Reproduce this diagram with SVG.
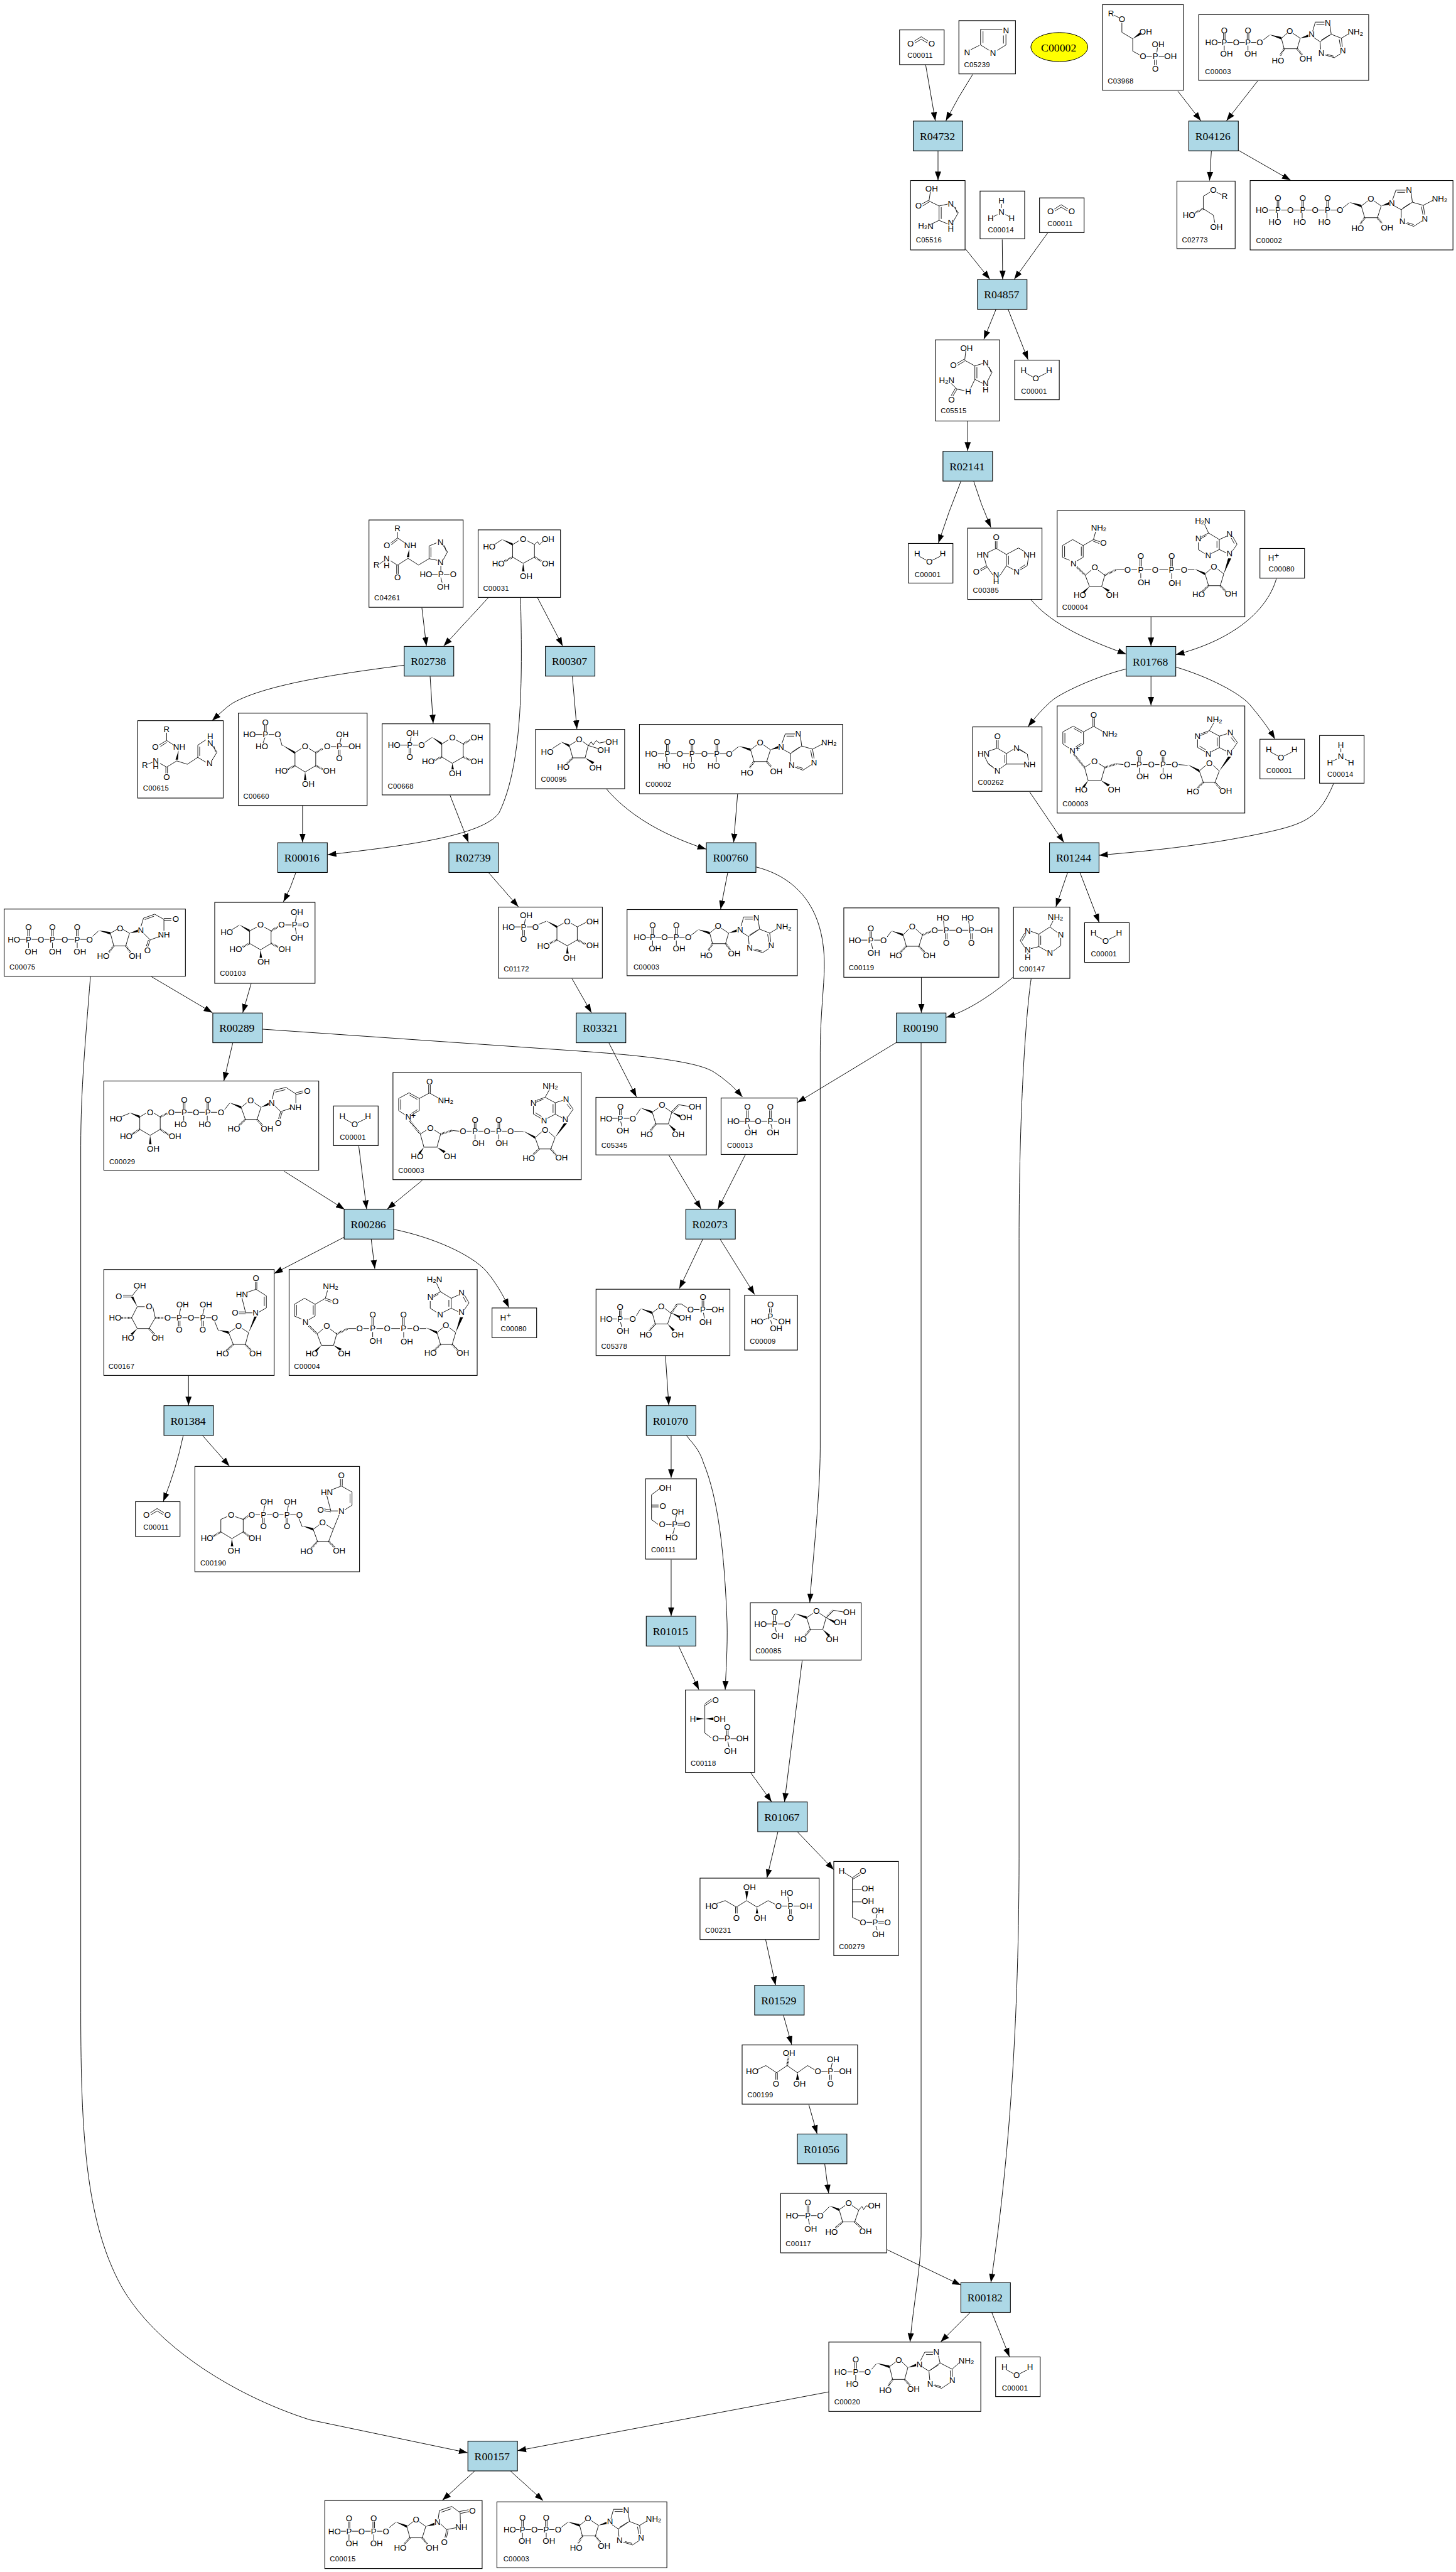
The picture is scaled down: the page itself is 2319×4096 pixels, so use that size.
<svg xmlns="http://www.w3.org/2000/svg" width="2319" height="4096" viewBox="0 0 2319 4096">
<style>
.n rect{fill:#fff;stroke:#000;stroke-width:1.1}
.n text{font:13.5px "Liberation Sans",Arial,sans-serif;text-anchor:middle;dominant-baseline:central;fill:#000}
.n text.l{font-size:11.5px;letter-spacing:.3px;text-anchor:start;dominant-baseline:auto}
.s{font-size:9.5px}
.r rect{fill:#ADD8E6;stroke:#000;stroke-width:1.1}
.r text{font:18px "Liberation Serif","Times New Roman",serif;text-anchor:middle;fill:#000}
.b{fill:none;stroke:#000;stroke-width:.9}
.w{fill:#000}
.h{fill:none;stroke:#000;stroke-width:3;stroke-dasharray:1 1.3}
.e path{fill:none;stroke:#000;stroke-width:.95;marker-end:url(#a)}
</style>
<defs>
<marker id="a" markerUnits="userSpaceOnUse" markerWidth="15" markerHeight="11" refX="14" refY="5.5" orient="auto"><path d="M0 .5L14 5.5L0 10.5Z" fill="#000"/></marker>
<path id="s-water" class="b" d="M18 21L29 27M39 27L51 21"/>
<path id="s-co2" class="b" d="M24 18L35 11L46 18M25 21L35 15L45 21"/>
<path id="s-nh3" class="b" d="M34.5 21V27M28 38L22 41M41 38L47 41"/>
<g id="s-atp"><path class="b" d="M30 47.6H40M50 47.6H60M70 47.6H80M90 47.6H100M110 47.6H120M130 47.6H140M43.7 33V43M46.3 33V43M83.7 33V43M86.3 33V43M123.7 33V43M126.3 33V43M44 52V61M84 52V61M124 52V61M150 44L160 36M179.4 41L190 33M200 33L211.6 41L205.5 60H185L179.4 41M230 31L235.4 15.5H251M237.5 19H250M260 20L262 35L244 47L233 41M258 37L246 45M244 47V60M251 69L264 74L278 65M254 68L264 71M282 55L279.5 40M279 55L276.5 42M279.5 40L262 35M279.5 40L295 32"/><path class="w" d="M160 35L179.4 39V43ZM211.6 41L224 35V39Z"/><path class="h" d="M185 60L178 70M205.5 60L213 69"/></g>
<g id="s-adp"><path class="b" d="M31 44.8H36.5M46 44.8H55M66 44.8H74.5M84.5 44.8H93M104 41L114 33.3M133.5 38L143 30M152 30L164 38L159 55H138L133.5 38M184 27L188.3 12H203M190 15.5H203M212 18L214 31.6L196 43.6L186 37M211 33L198 41M196 43.6L197 56M204 65L219 69.5L229 63M207 64L218 67M232 52L230.4 38M229 52L227 40M230.4 38L214 31.6M230.4 38L242 31M40 30V40M42.6 30V40M78.3 30V40M81 30V40M41.3 50V58M79.6 50V58"/><path class="w" d="M114 32L133.5 36V40ZM164 38L177 32V36Z"/><path class="h" d="M138 55L131 67M159 55L167 65"/></g>
<g id="s-nad"><path class="b" d="M19 68L9.2 61.4V41.9L26 32.7L42.5 41.9V61.4L31 68M12.5 60V43.5M27 36.5L39.5 43.5M39.5 60L30 66M42.5 41.9L59 33M57.7 33V20M60.3 33V20M59 33L73 41M44.2 99.3L54 93M67 93L77 99.3L71 120.5H50L44.2 99.3M95.8 93.6L107 94.7M119 94.7H127M138 94.7H146M158 94.7H165M176 94.7H184M131.3 81.5V90M134 81.5V90M169.7 81.5V90M172.3 81.5V90M132.6 100V108M171 100V108M196 94.7L210.7 95.9M229.5 105L240 96M252 96L261.8 105L254.9 123.4H236L229.5 105M245.7 40L253 27M245.7 40L232 45M243 43L231 48M226.7 54V67L239 74M230 65L240 71M249 74L262 67.3V48.8L245.7 40M258.5 65V51M262 48.8L274 45M283 48L291 59L283 71M281 51L287 59M273 73L262 67.3"/><path class="w" d="M50 120.5L41 130L44 132ZM71 120.5L82 130L85 127ZM210.7 94.5L229.5 103V107ZM261.8 105L276 82H281Z"/><path class="h" d="M27 78L44.2 99.3M77 99.3L95.8 93.6M236 123.4L226 133M254.9 123.4L263 133"/></g>
<g id="s-nadh"><path class="b" d="M20 80L8.6 75.2V56.2L25 46.5L42 56.2V75.2L32 81M12 74.5V57M39 73V58M42 56.2L58.6 46.5L62 34M58.6 46.5L69 50M58 49L68 53M45.3 104L55 96M66 96L76.9 104L71.8 122.4H52.2L45.3 104M95.3 95.3H108M120 95.3H129M141 95.3H152M165 95.3H179M191 95.3H199M133.7 78V90M136.3 78V90M183.5 78V90M186 78V90M135 101V109M185 101V110M211 95.3H221.6M238.8 102L248 94M259 94L269 102L263.4 121H244.5L238.8 102M244.5 36L238 22M244.5 36L233 42M241 40L232 45M227.9 51V62.6L238 69M249 69L261.8 62.6V46.5L244.5 36M258 60V49M261.8 46.5L274 41M283 41L290.5 54L283 65M273 68L261.8 62.6M281 44L286 53"/><path class="w" d="M52.2 122.4L41 131L44 133ZM71.8 122.4L82 131L85 128ZM221.6 94L238.8 100V104ZM269 102L276 77H281Z"/><path class="h" d="M32 91L45.3 104M76.9 104L95.3 95.3M244.5 121L234 131M263.4 121L272 130"/></g>
<g id="s-f6p"><path class="b" d="M26 34H35M45 34H54M38 20V29M40.8 20V29M40 39L42 47M65 29L72 18.4M91 24L101 17M112 17L122.5 24L117 43H96.8L91 24M134 12L152 15"/><path class="w" d="M72 17L91 22V26ZM122.5 24L136 29V33ZM117 43L126 55L129 52Z"/><path class="h" d="M122.5 24L134 12M96.8 43L88 54"/></g>
</defs>
<rect width="2319" height="4096" fill="#fff"/>
<g transform="scale(.98639)">
<g id="connectors" class="e">
<path d="M1494.7 105L1510.3 195"/>
<path d="M1570.7 120Q1548 155 1527.3 195"/>
<path d="M1514.6 243.3V291"/>
<path d="M1902 147.3L1939 195"/>
<path d="M2030.7 130.8L1980.4 195"/>
<path d="M1956 243.8L1953 291.5"/>
<path d="M1999.2 242.4L2084 291"/>
<path d="M1558.9 401.8L1598.3 451"/>
<path d="M1618.3 386.6L1619 451"/>
<path d="M1691.7 376L1637.7 451"/>
<path d="M1608 500L1588.6 547.8"/>
<path d="M1628 500L1660 580.8"/>
<path d="M1562.5 680V728"/>
<path d="M1551.6 777Q1532 825 1515.2 876.8"/>
<path d="M1572.2 777Q1584 815 1600 851.5"/>
<path d="M1664.4 968C1700 1010 1760 1035 1818.5 1056"/>
<path d="M1858.5 996V1043.3"/>
<path d="M2061 934.2C2045 990 1985 1035 1898.5 1057"/>
<path d="M1818.5 1080C1770 1092 1715 1118 1700 1130C1685 1142 1672 1158 1660 1173"/>
<path d="M1858.5 1092V1139"/>
<path d="M1898.5 1077C1950 1092 2005 1120 2020 1140C2035 1158 2048 1175 2058.6 1193"/>
<path d="M1662.6 1278.6L1717.8 1360"/>
<path d="M2153.2 1265.4C2130 1320 2110 1330 2040 1345C1960 1362 1880 1372 1774.8 1380.8"/>
<path d="M1723.8 1409L1705 1464"/>
<path d="M1743.9 1409L1774.8 1489.3"/>
<path d="M681.2 981L688.5 1043"/>
<path d="M788.5 965L716.4 1043"/>
<path d="M867.9 965L908.5 1043"/>
<path d="M840.6 965C843 1080 846 1230 806 1312C780 1350 650 1366 529 1380"/>
<path d="M652.7 1074C560 1086 430 1104 376 1135C365 1142 355 1152 342.4 1163.5"/>
<path d="M694.5 1092L699.4 1168"/>
<path d="M488.5 1301V1360"/>
<path d="M726.7 1284L756.4 1360"/>
<path d="M924.2 1092L931.5 1177"/>
<path d="M979.5 1274C1010 1310 1060 1345 1140.2 1371"/>
<path d="M1191 1282L1184.6 1360"/>
<path d="M1175 1409L1163.5 1468"/>
<path d="M1220.6 1399.7C1270 1412 1332 1450 1331 1560C1331 1590 1324.4 1640 1324.4 1700L1324.4 2339C1324 2420 1312 2520 1307.6 2587"/>
<path d="M477.6 1409Q470 1433 457.6 1456"/>
<path d="M789 1409L837 1464"/>
<path d="M405.5 1588L392 1635"/>
<path d="M244.8 1577L343 1635"/>
<path d="M923.6 1580L955 1635"/>
<path d="M1487.7 1578V1635"/>
<path d="M1447.5 1683L1287.5 1780"/>
<path d="M424 1661.6L950 1698C1060 1706 1130 1716 1153 1731C1170 1742 1185 1755 1198.8 1771"/>
<path d="M983.3 1684L1027.7 1771"/>
<path d="M1080 1865L1132 1952"/>
<path d="M1203.7 1864L1159.3 1952"/>
<path d="M1487.3 1683V3610C1487 3660 1475 3720 1469.4 3781"/>
<path d="M1635.3 1578C1615 1595 1570 1630 1527.9 1642.5"/>
<path d="M1665 1580C1656 1640 1645.5 1800 1645.5 2000V3000C1645 3300 1625 3520 1600 3685"/>
<path d="M375.8 1684L361.5 1745"/>
<path d="M458.8 1891L556.4 1952.6"/>
<path d="M579.3 1850.4L592 1952"/>
<path d="M682 1905.5L625.3 1952"/>
<path d="M555.8 1997.4L442.7 2056"/>
<path d="M599.4 2000.8L605.2 2048.5"/>
<path d="M635.6 1984.7C700 1998 760 2025 785 2052C800 2070 812 2090 821.6 2111"/>
<path d="M304.4 2221V2269"/>
<path d="M295.8 2318Q285 2370 263.6 2424"/>
<path d="M327.3 2318L370.4 2367"/>
<path d="M146 1577C138 1680 130.4 1760 130.4 1850V3250C130.4 3450 140 3580 190 3680C240 3780 370 3865 500 3906.7L755 3960"/>
<path d="M1338.3 3861.7L835.6 3956.7"/>
<path d="M766.7 3989.3L714.3 4036.7"/>
<path d="M824 3989.3L877 4037.3"/>
<path d="M1134.6 2001L1097 2080.4"/>
<path d="M1163 2001L1218.4 2090"/>
<path d="M1074.5 2189.4L1079.9 2268.7"/>
<path d="M1083.7 2318V2386"/>
<path d="M1108.6 2318C1120 2332 1130 2342 1136 2362C1160 2420 1170 2510 1174 2620C1175 2660 1172 2700 1171 2728"/>
<path d="M1083.7 2518V2609"/>
<path d="M1096 2658L1128.5 2728"/>
<path d="M1295.3 2681L1266.7 2909"/>
<path d="M1212 2862L1246 2909"/>
<path d="M1256 2957.7L1238.3 3032"/>
<path d="M1287.7 2957.7L1346.3 3018.7"/>
<path d="M1236.3 3131.7L1252.3 3205"/>
<path d="M1265 3253.7L1278.3 3301"/>
<path d="M1306 3398L1319.3 3445"/>
<path d="M1331.7 3493.7L1338 3541"/>
<path d="M1432.7 3632.3L1551.5 3689.3"/>
<path d="M1566.3 3733.7L1518.9 3781"/>
<path d="M1601.5 3733.7L1630 3805"/>
</g>

<g id="C00002" class="r"><ellipse cx="1710.5" cy="76" rx="46" ry="23.5" fill="#ff0" stroke="#000"/><text x="1709.5" y="83">C00002</text></g>
<g id="R04732" class="r" transform="translate(1474.6 195.5)"><rect width="80" height="48"/><text x="39" y="30.5">R04732</text></g>
<g id="R04126" class="r" transform="translate(1919.5 195.5)"><rect width="80" height="48"/><text x="39" y="30.5">R04126</text></g>
<g id="R04857" class="r" transform="translate(1578.3 451.3)"><rect width="80" height="48"/><text x="39" y="30.5">R04857</text></g>
<g id="R02141" class="r" transform="translate(1522.6 728.7)"><rect width="80" height="48"/><text x="39" y="30.5">R02141</text></g>
<g id="R01768" class="r" transform="translate(1818.5 1043.7)"><rect width="80" height="48"/><text x="39" y="30.5">R01768</text></g>
<g id="R01244" class="r" transform="translate(1694.6 1360.6)"><rect width="80" height="48"/><text x="39" y="30.5">R01244</text></g>
<g id="R02738" class="r" transform="translate(652.7 1043.6)"><rect width="80" height="48"/><text x="39" y="30.5">R02738</text></g>
<g id="R00307" class="r" transform="translate(880.6 1043.6)"><rect width="80" height="48"/><text x="39" y="30.5">R00307</text></g>
<g id="R00016" class="r" transform="translate(448.5 1360.6)"><rect width="80" height="48"/><text x="39" y="30.5">R00016</text></g>
<g id="R02739" class="r" transform="translate(724.8 1360.6)"><rect width="80" height="48"/><text x="39" y="30.5">R02739</text></g>
<g id="R00760" class="r" transform="translate(1140.6 1360.6)"><rect width="80" height="48"/><text x="39" y="30.5">R00760</text></g>
<g id="R00289" class="r" transform="translate(343.6 1635.5)"><rect width="80" height="48"/><text x="39" y="30.5">R00289</text></g>
<g id="R03321" class="r" transform="translate(930.5 1635.5)"><rect width="80" height="48"/><text x="39" y="30.5">R03321</text></g>
<g id="R00190" class="r" transform="translate(1447.5 1635.5)"><rect width="80" height="48"/><text x="39" y="30.5">R00190</text></g>
<g id="R02073" class="r" transform="translate(1107.3 1952.5)"><rect width="80" height="48"/><text x="39" y="30.5">R02073</text></g>
<g id="R00286" class="r" transform="translate(555.7 1952.5)"><rect width="80" height="48"/><text x="39" y="30.5">R00286</text></g>
<g id="R01384" class="r" transform="translate(264.7 2269.5)"><rect width="80" height="48"/><text x="39" y="30.5">R01384</text></g>
<g id="R01070" class="r" transform="translate(1043.5 2269.5)"><rect width="80" height="48"/><text x="39" y="30.5">R01070</text></g>
<g id="R01015" class="r" transform="translate(1043.5 2609.5)"><rect width="80" height="48"/><text x="39" y="30.5">R01015</text></g>
<g id="R01067" class="r" transform="translate(1223.5 2909.3)"><rect width="80" height="48"/><text x="39" y="30.5">R01067</text></g>
<g id="R01529" class="r" transform="translate(1218.5 3205.3)"><rect width="80" height="48"/><text x="39" y="30.5">R01529</text></g>
<g id="R01056" class="r" transform="translate(1287.5 3445.4)"><rect width="80" height="48"/><text x="39" y="30.5">R01056</text></g>
<g id="R00182" class="r" transform="translate(1551.5 3685.3)"><rect width="80" height="48"/><text x="39" y="30.5">R00182</text></g>
<g id="R00157" class="r" transform="translate(755.5 3941.3)"><rect width="80" height="48"/><text x="39" y="30.5">R00157</text></g>

<g id="C00001-a" class="n" transform="translate(1638.4 581.4)"><rect width="72" height="64"/><use href="#s-water"/><text x="14.3" y="16.5">H</text><text x="55.6" y="16">H</text><text x="34" y="29.3">O</text><text class="l" x="10.2" y="54">C00001</text></g>
<g id="C00001-b" class="n" transform="translate(1466.7 877.4)"><rect width="72" height="64"/><use href="#s-water"/><text x="14.3" y="16.5">H</text><text x="55.6" y="16">H</text><text x="34" y="29.3">O</text><text class="l" x="10.2" y="54">C00001</text></g>
<g id="C00001-c" class="n" transform="translate(2034.4 1193.5)"><rect width="72" height="64"/><use href="#s-water"/><text x="14.3" y="16.5">H</text><text x="55.6" y="16">H</text><text x="34" y="29.3">O</text><text class="l" x="10.2" y="54">C00001</text></g>
<g id="C00001-d" class="n" transform="translate(1751.3 1489.7)"><rect width="72" height="64"/><use href="#s-water"/><text x="14.3" y="16.5">H</text><text x="55.6" y="16">H</text><text x="34" y="29.3">O</text><text class="l" x="10.2" y="54">C00001</text></g>
<g id="C00001-e" class="n" transform="translate(538.6 1785.6)"><rect width="72" height="64"/><use href="#s-water"/><text x="14.3" y="16.5">H</text><text x="55.6" y="16">H</text><text x="34" y="29.3">O</text><text class="l" x="10.2" y="54">C00001</text></g>
<g id="C00001-f" class="n" transform="translate(1607.6 3805.3)"><rect width="72" height="64"/><use href="#s-water"/><text x="14.3" y="16.5">H</text><text x="55.6" y="16">H</text><text x="34" y="29.3">O</text><text class="l" x="10.2" y="54">C00001</text></g>
<g id="C00011-a" class="n" transform="translate(1452.5 48.3)"><rect width="72" height="56"/><use href="#s-co2"/><text x="17.7" y="21.7">O</text><text x="52" y="21.7">O</text><text class="l" x="12.7" y="45">C00011</text></g>
<g id="C00011-b" class="n" transform="translate(1678.5 319.5)"><rect width="72" height="56"/><use href="#s-co2"/><text x="17.7" y="21.7">O</text><text x="52" y="21.7">O</text><text class="l" x="12.7" y="45">C00011</text></g>
<g id="C00011-c" class="n" transform="translate(218.7 2424.5)"><rect width="72" height="56"/><use href="#s-co2"/><text x="17.7" y="21.7">O</text><text x="52" y="21.7">O</text><text class="l" x="12.7" y="45">C00011</text></g>
<g id="C00014-a" class="n" transform="translate(1582.5 308.5)"><rect width="72" height="77"/><use href="#s-nh3"/><text x="34.5" y="15">H</text><text x="34.5" y="33.9">N</text><text x="17" y="43.6">H</text><text x="51" y="43.6">H</text><text class="l" x="12.7" y="66.6">C00014</text></g>
<g id="C00014-b" class="n" transform="translate(2130.6 1187.5)"><rect width="72" height="77"/><use href="#s-nh3"/><text x="34.5" y="15">H</text><text x="34.5" y="33.9">N</text><text x="17" y="43.6">H</text><text x="51" y="43.6">H</text><text class="l" x="12.7" y="66.6">C00014</text></g>
<g id="C00080-a" class="n" transform="translate(2034.4 885.5)"><rect width="72" height="48"/><text x="18" y="15.5">H</text><text x="27" y="11.5" class="s">+</text><text class="l" x="14" y="37.3">C00080</text></g>
<g id="C00080-b" class="n" transform="translate(794.5 2111.7)"><rect width="72" height="48"/><text x="18" y="15.5">H</text><text x="27" y="11.5" class="s">+</text><text class="l" x="14" y="37.3">C00080</text></g>

<g id="C00002-a" class="n" transform="translate(2018.6 291.5)"><rect width="327.5" height="112"/><use href="#s-atp"/><text x="19" y="47.6">HO</text><text x="45" y="47.6">P</text><text x="65" y="47.6">O</text><text x="85" y="47.6">P</text><text x="105" y="47.6">O</text><text x="125" y="47.6">P</text><text x="145" y="47.6">O</text><text x="45" y="28">O</text><text x="85" y="28">O</text><text x="125" y="28">O</text><text x="40" y="67">HO</text><text x="80" y="67">HO</text><text x="120" y="67">HO</text><text x="195" y="29.3">O</text><text x="173.7" y="77.5">HO</text><text x="221" y="75.8">OH</text><text x="228.8" y="36.7">N</text><text x="256.4" y="15.5">N</text><text x="245.7" y="66">N</text><text x="282" y="61.4">N</text><text x="306" y="29.3">NH<tspan class="s" dy="3">2</tspan></text><text class="l" x="9.6" y="101">C00002</text></g>
<g id="C00002-b" class="n" transform="translate(1032.5 1169.5)"><rect width="328" height="112"/><use href="#s-atp"/><text x="19" y="47.6">HO</text><text x="45" y="47.6">P</text><text x="65" y="47.6">O</text><text x="85" y="47.6">P</text><text x="105" y="47.6">O</text><text x="125" y="47.6">P</text><text x="145" y="47.6">O</text><text x="45" y="28">O</text><text x="85" y="28">O</text><text x="125" y="28">O</text><text x="40" y="67">HO</text><text x="80" y="67">HO</text><text x="120" y="67">HO</text><text x="195" y="29.3">O</text><text x="173.7" y="77.5">HO</text><text x="221" y="75.8">OH</text><text x="228.8" y="36.7">N</text><text x="256.4" y="15.5">N</text><text x="245.7" y="66">N</text><text x="282" y="61.4">N</text><text x="306" y="29.3">NH<tspan class="s" dy="3">2</tspan></text><text class="l" x="9.6" y="101">C00002</text></g>
<g id="C00003-a" class="n" transform="translate(1935.5 23.7)"><rect width="274.5" height="106"/><use href="#s-adp"/><text x="20.7" y="44.8">HO</text><text x="41.3" y="44.8">P</text><text x="60.5" y="44.8">O</text><text x="79.6" y="44.8">P</text><text x="98.7" y="44.8">O</text><text x="41.3" y="25.8">O</text><text x="79.6" y="25.8">O</text><text x="45" y="63">OH</text><text x="84" y="63">OH</text><text x="147" y="26.4">O</text><text x="128" y="74">HO</text><text x="173" y="71">OH</text><text x="182.5" y="32">N</text><text x="208.6" y="13">N</text><text x="198" y="62">N</text><text x="232.7" y="58">N</text><text x="253" y="27.6">NH<tspan class="s" dy="3">2</tspan></text><text class="l" x="10.3" y="96.4">C00003</text></g>
<g id="C00003-c" class="n" transform="translate(1012.5 1468.5)"><rect width="275" height="106.8"/><use href="#s-adp"/><text x="20.7" y="44.8">HO</text><text x="41.3" y="44.8">P</text><text x="60.5" y="44.8">O</text><text x="79.6" y="44.8">P</text><text x="98.7" y="44.8">O</text><text x="41.3" y="25.8">O</text><text x="79.6" y="25.8">O</text><text x="45" y="63">OH</text><text x="84" y="63">OH</text><text x="147" y="26.4">O</text><text x="128" y="74">HO</text><text x="173" y="71">OH</text><text x="182.5" y="32">N</text><text x="208.6" y="13">N</text><text x="198" y="62">N</text><text x="232.7" y="58">N</text><text x="253" y="27.6">NH<tspan class="s" dy="3">2</tspan></text><text class="l" x="10.3" y="96.4">C00003</text></g>
<g id="C00003-e" class="n" transform="translate(802.4 4039.3)"><rect width="274.4" height="106.4"/><use href="#s-adp"/><text x="20.7" y="44.8">HO</text><text x="41.3" y="44.8">P</text><text x="60.5" y="44.8">O</text><text x="79.6" y="44.8">P</text><text x="98.7" y="44.8">O</text><text x="41.3" y="25.8">O</text><text x="79.6" y="25.8">O</text><text x="45" y="63">OH</text><text x="84" y="63">OH</text><text x="147" y="26.4">O</text><text x="128" y="74">HO</text><text x="173" y="71">OH</text><text x="182.5" y="32">N</text><text x="208.6" y="13">N</text><text x="198" y="62">N</text><text x="232.7" y="58">N</text><text x="253" y="27.6">NH<tspan class="s" dy="3">2</tspan></text><text class="l" x="10.3" y="96.4">C00003</text></g>
<g id="C00003-b" class="n" transform="translate(1707 1139.7)"><rect width="303" height="173"/><use href="#s-nad"/><text x="24.7" y="71.8">N</text><text x="33" y="69" class="s">+</text><text x="59" y="14.4">O</text><text x="85" y="44.8">NH<tspan class="s" dy="3">2</tspan></text><text x="60.3" y="90">O</text><text x="39" y="135">HO</text><text x="92" y="135">OH</text><text x="113" y="94.7">O</text><text x="132.6" y="94.7">P</text><text x="152" y="94.7">O</text><text x="171" y="94.7">P</text><text x="190" y="94.7">O</text><text x="132.6" y="76.3">O</text><text x="171" y="76.3">O</text><text x="138" y="114">OH</text><text x="175.7" y="114">OH</text><text x="245.7" y="92.4">O</text><text x="219.3" y="138.3">HO</text><text x="272.2" y="137.2">OH</text><text x="254" y="21.8">NH<tspan class="s" dy="3">2</tspan></text><text x="226.7" y="48.8">N</text><text x="244" y="77.5">N</text><text x="279.5" y="43">N</text><text x="278.3" y="75.2">N</text><text class="l" x="8.6" y="161.9">C00003</text></g>
<g id="C00003-d" class="n" transform="translate(634.5 1731.6)"><rect width="304" height="173"/><use href="#s-nad"/><text x="24.7" y="71.8">N</text><text x="33" y="69" class="s">+</text><text x="59" y="14.4">O</text><text x="85" y="44.8">NH<tspan class="s" dy="3">2</tspan></text><text x="60.3" y="90">O</text><text x="39" y="135">HO</text><text x="92" y="135">OH</text><text x="113" y="94.7">O</text><text x="132.6" y="94.7">P</text><text x="152" y="94.7">O</text><text x="171" y="94.7">P</text><text x="190" y="94.7">O</text><text x="132.6" y="76.3">O</text><text x="171" y="76.3">O</text><text x="138" y="114">OH</text><text x="175.7" y="114">OH</text><text x="245.7" y="92.4">O</text><text x="219.3" y="138.3">HO</text><text x="272.2" y="137.2">OH</text><text x="254" y="21.8">NH<tspan class="s" dy="3">2</tspan></text><text x="226.7" y="48.8">N</text><text x="244" y="77.5">N</text><text x="279.5" y="43">N</text><text x="278.3" y="75.2">N</text><text class="l" x="8.6" y="161.9">C00003</text></g>
<g id="C00004-a" class="n" transform="translate(1707 824.6)"><rect width="303" height="171"/><use href="#s-nadh"/><text x="26.4" y="85">N</text><text x="74.7" y="52">O</text><text x="67" y="27">NH<tspan class="s" dy="3">2</tspan></text><text x="60.8" y="91.3">O</text><text x="36.7" y="136">HO</text><text x="89" y="136">OH</text><text x="113.7" y="95.3">O</text><text x="135" y="95.3">P</text><text x="158.4" y="95.3">O</text><text x="184.8" y="95.3">P</text><text x="205" y="95.3">O</text><text x="135" y="73">O</text><text x="184.8" y="73">O</text><text x="140" y="115.4">OH</text><text x="190" y="116.5">OH</text><text x="253.2" y="90">O</text><text x="228.4" y="135">HO</text><text x="280.7" y="134.3">OH</text><text x="234.8" y="16">H<tspan class="s" dy="3">2</tspan><tspan dy="-3">N</tspan></text><text x="227.9" y="44.8">N</text><text x="243.9" y="72.3">N</text><text x="278.4" y="37.3">N</text><text x="278.4" y="69">N</text><text class="l" x="8" y="160">C00004</text></g>
<g id="C00004-b" class="n" transform="translate(466.8 2049.6)"><rect width="303.7" height="171"/><use href="#s-nadh"/><text x="26.4" y="85">N</text><text x="74.7" y="52">O</text><text x="67" y="27">NH<tspan class="s" dy="3">2</tspan></text><text x="60.8" y="91.3">O</text><text x="36.7" y="136">HO</text><text x="89" y="136">OH</text><text x="113.7" y="95.3">O</text><text x="135" y="95.3">P</text><text x="158.4" y="95.3">O</text><text x="184.8" y="95.3">P</text><text x="205" y="95.3">O</text><text x="135" y="73">O</text><text x="184.8" y="73">O</text><text x="140" y="115.4">OH</text><text x="190" y="116.5">OH</text><text x="253.2" y="90">O</text><text x="228.4" y="135">HO</text><text x="280.7" y="134.3">OH</text><text x="234.8" y="16">H<tspan class="s" dy="3">2</tspan><tspan dy="-3">N</tspan></text><text x="227.9" y="44.8">N</text><text x="243.9" y="72.3">N</text><text x="278.4" y="37.3">N</text><text x="278.4" y="69">N</text><text class="l" x="8" y="160">C00004</text></g>

<g id="C05239" class="n" transform="translate(1548.3 33.3)"><rect width="91.4" height="86"/><path class="b" d="M19 47L33 40M35 39.3V14H70M39 36V17M76 22V39.3M72 24V37M76 39.3L62 48M49 48L35 39.3"/><text x="13.3" y="51.7">N</text><text x="76" y="16">N</text><text x="55" y="52.3">N</text><text class="l" x="8.3" y="75">C05239</text></g>
<g id="C03968" class="n" transform="translate(1780 7.6)"><rect width="131" height="138"/><path class="b" d="M19 17L27 21M31.5 29V44.6L49 55V75L60 81M71 83.5H80M91 83.5H100M88 77L89 69M84 89V97.5M87 89V97.5"/><path class="w" d="M49 55L60 45L63 48Z"/><text x="14" y="13.8">R</text><text x="31.5" y="23.7">O</text><text x="70" y="44">OH</text><text x="65.5" y="83.5">O</text><text x="85.5" y="83.5">P</text><text x="90" y="63.8">OH</text><text x="110" y="83.5">OH</text><text x="85.5" y="103">O</text><text class="l" x="8.5" y="127">C03968</text></g>
<g id="C05516" class="n" transform="translate(1470.3 291.5)"><rect width="88" height="112"/><path class="b" d="M32 18L29.7 33L46 41L60 38M18 38L29 32M19.5 41L30 34.5M46 41V64.3M49.5 43V62M69 41L77 52L69 66M72 43L75 52M60 70L46 64.3L32 71"/><text x="34" y="13">OH</text><text x="12.7" y="40.6">O</text><text x="65" y="37">N</text><text x="65" y="68">N</text><text x="65" y="78">H</text><text x="24.6" y="73">H<tspan class="s" dy="3">2</tspan><tspan dy="-3">N</tspan></text><text class="l" x="8.5" y="100">C05516</text></g>
<g id="C02773" class="n" transform="translate(1900.4 292.4)"><rect width="94" height="109"/><path class="b" d="M53 18L42.5 24.6V44.6L58.8 55L61 67M64 18L72 22"/><path class="h" d="M42.5 44.6L28 52"/><text x="58.8" y="14.7">O</text><text x="77" y="24.6">R</text><text x="19.4" y="54.5">HO</text><text x="63.7" y="74.6">OH</text><text class="l" x="8" y="99">C02773</text></g>
<g id="C05515" class="n" transform="translate(1510.4 548.7)"><rect width="103.6" height="131"/><path class="b" d="M49 18L47.3 33L63.7 42L77 38M35 38L46 31.5M36 41L47 34.5M63.7 42V63.8M67 44V62M84 42L91.6 52L84 67M87 44L89.5 52M76 70L63.7 63.8L57 78M47 82L35 79.5M25 70L35 79.5L28 91M32.5 78L25.5 90"/><text x="50.3" y="13">OH</text><text x="29" y="40.6">O</text><text x="81" y="37">N</text><text x="81" y="70">N</text><text x="81" y="80">H</text><text x="18.2" y="65">H<tspan class="s" dy="3">2</tspan><tspan dy="-3">N</tspan></text><text x="26" y="96.4">O</text><text x="53" y="83">H</text><text class="l" x="8.5" y="118.8">C05515</text></g>
<g id="C00385" class="n" transform="translate(1562.5 852.7)"><rect width="120" height="115"/><path class="b" d="M44.7 21V33M47.3 21V33M46 32.7L33 39M27 48L30.3 60.8L41 76M30.3 60.8L20 66.5M31.5 63L21 69M51 78L62.5 60.8V42.5L46 32.7M66 59V44.5M62.5 42.5L82 32L92 38M98 48L96 60.8L84 68M62.5 60.8L74 67M93 59L84 65"/><text x="46" y="15">O</text><text x="24.3" y="42.5">HN</text><text x="14" y="70">O</text><text x="46" y="75">N</text><text x="46" y="85.5">H</text><text x="100" y="42.5">NH</text><text x="79" y="70">N</text><text class="l" x="8.5" y="104">C00385</text></g>
<g id="C00262" class="n" transform="translate(1570.5 1173.6)"><rect width="112" height="104"/><path class="b" d="M38.7 21V34M41.3 21V34M40 34.4L26 39M20 49L25.5 60L35 67M24 58L33 65M45 67L54.6 60V43L40 34.4M52 58V45M54.6 43L66 36M76 36L88.4 44L90 54M85 42L74 36M84 60H54.6"/><text x="40" y="15">O</text><text x="17.6" y="43">HN</text><text x="40" y="70.6">N</text><text x="71" y="34.4">N</text><text x="92" y="60.8">NH</text><text class="l" x="8.5" y="93.6">C00262</text></g>
<g id="C00147" class="n" transform="translate(1636.5 1464.6)"><rect width="91" height="115"/><path class="b" d="M64 22L58.8 32L71 41M58.8 32L41 43.6M41 43.6V63.7M44 46V61M41 43.6L28 39M76.4 50V62L64 71M54 71L41 63.7L28 67M18 42L10.9 54L18 65M20 44L14 54M23 74V76"/><text x="67.7" y="16">NH<tspan class="s" dy="3">2</tspan></text><text x="76.4" y="44.8">N</text><text x="58.8" y="74">N</text><text x="23" y="37.9">N</text><text x="23" y="69">N</text><text x="23" y="81">H</text><text class="l" x="9" y="104">C00147</text></g>
<g id="C00119" class="n" transform="translate(1362.5 1465.8)"><rect width="250.4" height="112"/><path class="b" d="M28 52H38M49 52H59M42.4 38V47M45 38V47M44.5 57L46.5 66M70 47L76.5 38M95.7 43.6L105 34M116 34L127 43.6L121.3 62H101L95.7 43.6M152 36H160M170.5 36H180.5M191 36H201M211.5 36H222M162 31L161 21M203 31L201.5 21M164 41V51M166.7 41V51M204.7 41V51M207.3 41V51"/><path class="w" d="M76.5 37L95.7 41.6V45.6Z"/><path class="h" d="M127 43.6L141 38M101 62L91 72M121.3 62L131 72"/><text x="18" y="52">HO</text><text x="43.6" y="52">P</text><text x="43.6" y="33">O</text><text x="48.5" y="72.3">OH</text><text x="64" y="52">O</text><text x="110.5" y="30.4">O</text><text x="84.2" y="77">HO</text><text x="138" y="77">OH</text><text x="146.6" y="36">O</text><text x="165.4" y="36">P</text><text x="186" y="36">O</text><text x="206" y="36">P</text><text x="230.5" y="36">OH</text><text x="160" y="15.5">HO</text><text x="200" y="15.5">HO</text><text x="165.4" y="56.3">O</text><text x="206" y="56.3">O</text><text class="l" x="8" y="100.5">C00119</text></g>

<g id="C04261" class="n" transform="translate(595.8 839.5)"><rect width="152" height="141"/><path class="b" d="M46 19.5V29M46 29L35 37.5M46 32L36 40M46 29L58 37M63 62L46 73L35 66M44.7 73V87M47.3 73V87M63 62L80 72.7L97 62.5V42L109 37M100 60V44M119 40L126.7 51.6L120 64M122 41L124.7 51M110 65L97 62.5M116 74V83M100 88H111M121 88H130M116 93L118 101M17 71L24 66"/><path class="w" d="M65 47L61 60H65Z"/><text x="46" y="14">R</text><text x="29" y="41.5">O</text><text x="66.7" y="41.5">NH</text><text x="46" y="92.5">O</text><text x="28.5" y="62.5">N</text><text x="28.5" y="73.5">H</text><text x="12" y="72.7">R</text><text x="115.5" y="35.7">N</text><text x="115.5" y="68.4">N</text><text x="116" y="88">P</text><text x="92" y="88">HO</text><text x="136" y="88">O</text><text x="120" y="107.8">OH</text><text class="l" x="8.5" y="130">C04261</text></g>
<g id="C00031" class="n" transform="translate(772 855.5)"><rect width="133" height="109"/><path class="b" d="M26 24L38 16M55.8 23.6L66 17.5M79 17.5L91 23.6V44L72.7 54L55.8 44V23.6M91 23.6L96 19L99 24L105 18"/><path class="w" d="M38 15L55.8 21.6V25.6ZM72.7 54L71 67H75Z"/><path class="h" d="M55.8 44L42 51M91 44L103 51"/><text x="18" y="27.4">HO</text><text x="72.7" y="14.7">O</text><text x="113" y="14.7">OH</text><text x="32.7" y="54">HO</text><text x="113" y="54">OH</text><text x="77.6" y="74.6">OH</text><text class="l" x="8" y="98">C00031</text></g>
<g id="C00615" class="n" transform="translate(222.4 1163.5)"><rect width="138" height="125"/><path class="b" d="M46.7 19.5V32M46.7 32L35 39M46.7 35L36.5 42M46.7 32L59 40M63 65L46.7 75L36 69M45.4 75V85M48 75V85M63 65L80 70.4L97 59.3V39.5L110 31M100 57V42M120 40L128 50.7L120 64M123 41L125.7 50.7M110 67L97 59.3M17 70L24 67"/><path class="w" d="M66 48L61 63H65Z"/><text x="46.7" y="14">R</text><text x="28.5" y="42.7">O</text><text x="67" y="42.7">NH</text><text x="46.7" y="91">O</text><text x="29" y="65">N</text><text x="29" y="73.5">H</text><text x="11.5" y="71.4">R</text><text x="117" y="25.5">H</text><text x="117" y="36">N</text><text x="116" y="68.4">N</text><text class="l" x="8.5" y="113">C00615</text></g>
<g id="C00660" class="n" transform="translate(384.8 1151.4)"><rect width="208" height="149"/><path class="b" d="M28 34.4H39M49 34.4H58M42.4 19.5V29.5M45 19.5V29.5M43 39.5L40 48M67 40L70.9 53M91.5 63.8L102 57M114 57L125 63.8V84.8L107.9 95L91.5 84.8V63.8M149.5 54H158M168 54H178M161.7 59V67.5M164.3 59V67.5M164 49L166 40"/><path class="w" d="M70.9 51.5L91.5 62V66ZM107.9 95L106 108H110Z"/><path class="h" d="M125 63.8L137 57M91.5 84.8L79 91M125 84.8L137 91"/><text x="43.6" y="14.7">O</text><text x="18" y="34.4">HO</text><text x="43.6" y="34.4">P</text><text x="63.6" y="34.4">O</text><text x="38" y="54">HO</text><text x="107.9" y="54">O</text><text x="143.6" y="54">O</text><text x="163" y="54">P</text><text x="188" y="54">OH</text><text x="168" y="33.8">OH</text><text x="163" y="72.7">O</text><text x="69.7" y="93">HO</text><text x="147" y="93">OH</text><text x="113" y="114.8">OH</text><text class="l" x="8" y="138.4">C00660</text></g>
<g id="C00668" class="n" transform="translate(617 1168.6)"><rect width="174" height="114.8"/><path class="b" d="M29 34.4H40M50 34.4H58M44.8 29L47 21M43.5 39V48.5M46 39V48.5M69 30L80 22.3M96.4 32.5L107 26M119 26L131 32.5V53.6L113.3 63.8L96.4 53.6V32.5"/><path class="w" d="M80 21L96.4 30.5V34.5ZM113.3 63.8L112 73.5H116Z"/><path class="h" d="M131 32.5L143 25.5M96.4 53.6L84 59M131 53.6L143 59"/><text x="49" y="14.7">OH</text><text x="19.4" y="34.4">HO</text><text x="44.8" y="34.4">P</text><text x="44.8" y="54">O</text><text x="63.6" y="34.4">O</text><text x="113.3" y="21.7">O</text><text x="153" y="21.7">OH</text><text x="74.5" y="61">HO</text><text x="153" y="61">OH</text><text x="118" y="80">OH</text><text class="l" x="9" y="104.6">C00668</text></g>
<g id="C00095" class="n" transform="translate(864.8 1177.6)"><rect width="143.8" height="95.8"/><path class="b" d="M27 31L41 22M54.5 26L65 19.5M76 19.5L85 26L80 46H60L54.5 26M85 26L90 20L93 25L98 18L103 22L113 20M85 26L101 31"/><path class="w" d="M41 20L54.5 24.5V28.5ZM80 46L92 56L95 53Z"/><path class="h" d="M60 46L50 56"/><text x="18.8" y="36.4">HO</text><text x="70.3" y="16">O</text><text x="123" y="20">OH</text><text x="110" y="33">OH</text><text x="44.8" y="61">HO</text><text x="96.7" y="61.5">OH</text><text class="l" x="8.5" y="84.8">C00095</text></g>
<g id="C00103" class="n" transform="translate(346.7 1456.9)"><rect width="162" height="130.7"/><path class="b" d="M28 44L39.4 37M56.4 46L68 40M80 40L91 46V66.3L74 76.5L56.4 66.3V46M114 36.4H124M134 35H141M134 38H141M130 31L132 21M130 41L132 51"/><path class="w" d="M39.4 36L56.4 44V48ZM74 76.5L72.5 89.5H76.5Z"/><path class="h" d="M91 46L102 39.5M56.4 66.3L44 72.5M91 66.3L103 72.5"/><text x="19.4" y="48.5">HO</text><text x="74" y="36.4">O</text><text x="108" y="36.4">O</text><text x="129" y="36.4">P</text><text x="147" y="36.4">O</text><text x="132.7" y="15.3">OH</text><text x="132.7" y="56.8">OH</text><text x="34" y="75.3">HO</text><text x="113" y="75.3">OH</text><text x="79" y="95.7">OH</text><text class="l" x="8.5" y="119">C00103</text></g>
<g id="C01172" class="n" transform="translate(804.8 1464.5)"><rect width="167.8" height="114.8"/><path class="b" d="M26 32H36M46 32H55M42 27L43.5 19M39.3 37V46.5M42 37V46.5M65 28L77 23M94.5 32L105 26M117 26L127.3 32V53L111 62.5L94.5 53V32M127.3 32L141 25"/><path class="w" d="M77 22L94.5 30V34ZM111 62.5L109.5 75H113.5Z"/><path class="h" d="M94.5 53L82 59M127.3 53L141 60"/><text x="44.8" y="12.8">OH</text><text x="16.4" y="32">HO</text><text x="40.6" y="32">P</text><text x="40.6" y="52">O</text><text x="60" y="32">O</text><text x="111" y="23">O</text><text x="152" y="23">OH</text><text x="72.7" y="62.5">HO</text><text x="152" y="62">OH</text><text x="114.5" y="81.6">OH</text><text class="l" x="8.5" y="104">C01172</text></g>
<g id="C00075" class="n" transform="translate(6.7 1467.7)"><rect width="292.7" height="108.4"/><path class="b" d="M25 49H34.5M44.5 49H54M65 49H73M83 49H93M103 49H113M123 49H133M38 33.5V44M40.8 33.5V44M76.6 33.5V44M79.4 33.5V44M116.6 33.5V44M119.4 33.5V44M39.4 54V63M78 54V63M118 54V63M143 44L152 35.7M171.5 39L182 33M192 33L202.4 39L196.4 59.4H177L171.5 39M221 28L225 14.7L243 8.3L258 16.6M227 17L242 11.5M258 16.6V35M258 15H270M258 18H270M252 44L235.8 49.7L225 39M235.8 49.7L232 61M233 50L229.5 60"/><path class="w" d="M152 34.5L171.5 37V41ZM202.4 39L216 33V37Z"/><path class="h" d="M177 59.4L169 70M196.4 59.4L204 70"/><text x="15.8" y="49">HO</text><text x="39.4" y="49">P</text><text x="59.4" y="49">O</text><text x="78" y="49">P</text><text x="98" y="49">O</text><text x="118" y="49">P</text><text x="138" y="49">O</text><text x="39.4" y="29">O</text><text x="78" y="29">O</text><text x="118" y="29">O</text><text x="43.6" y="69">OH</text><text x="82.4" y="69">OH</text><text x="122.4" y="69">OH</text><text x="187" y="31">O</text><text x="160" y="76">HO</text><text x="211.5" y="76">OH</text><text x="220.6" y="33.8">N</text><text x="277" y="16">O</text><text x="258" y="41.5">NH</text><text x="231.5" y="67">O</text><text class="l" x="8.5" y="97.6">C00075</text></g>
<g id="C00029" class="n" transform="translate(167.7 1745.3)"><rect width="347" height="144"/><path class="b" d="M27 58L41.3 52.2M58 58L68 52M81 52L91 58V78L74.7 87.8L58 78V58M115 50.5H125M135 50.5H143M154 50.5H163M173 50.5H183M128.4 35V45.5M131 35V45.5M166.7 35V45.5M169.3 35V45.5M129 56V64M167 56V64M195 46L203 36M221.6 42.5L231 35M243 35L253.7 42.5L247.4 62H228.5L221.6 42.5M272 29L275 15L294 10.3L310 20.7M277 18L293 14M310 19L322 16M310 22L322 19M310 20.7V36M302 44L285.5 49.4L276 40M285.5 49.4L282 61M288 50L284.5 61"/><path class="w" d="M41.3 51L58 56V60ZM74.7 87.8L73 102H77ZM203 35L221.6 40.5V44.5ZM253.7 42.5L266 35V39Z"/><path class="h" d="M91 58L103 52M58 78L44 87M91 78L105 87M228.5 62L218 72M247.4 62L256 72"/><text x="19.5" y="60.3">HO</text><text x="74.7" y="50.5">O</text><text x="109" y="50.5">O</text><text x="129.7" y="50.5">P</text><text x="148.7" y="50.5">O</text><text x="168" y="50.5">P</text><text x="189" y="50.5">O</text><text x="129.7" y="30.4">O</text><text x="168" y="30.4">O</text><text x="124" y="70">HO</text><text x="163" y="70">HO</text><text x="237" y="31">O</text><text x="210" y="77">HO</text><text x="263.5" y="77">OH</text><text x="36" y="89.5">HO</text><text x="114.8" y="89.5">OH</text><text x="79.7" y="109.6">OH</text><text x="271" y="35">N</text><text x="328.4" y="16.6">O</text><text x="309.4" y="42.5">NH</text><text x="281.5" y="67.7">O</text><text class="l" x="8.6" y="133.8">C00029</text></g>
<g id="C00167" class="n" transform="translate(167.7 2049.6)"><rect width="275" height="171"/><path class="b" d="M31 41.5H45M31 44.5H45M45.3 43L54 32M54 60H66M79 60L83 78L72.9 95.3H54L44.8 78L54 60M108.5 78H116.5M127 78H135M146 78H154M165 78H173.5M121.7 73L124 63M159.6 73L162 63M120.4 83V92M123 83V92M158.3 83V92M161 83V92M179 84L185 99M201.5 102L212 95M223 95L233.7 102L228.5 121H209L201.5 102M250 69L262.4 62V42.5M259 59V44M262.4 42.5L245.7 32L231 37M244.4 32V20M247 32V20M223 46L229 70L240 70M218 68.5L229 68.5M218 71.5L229 71.5"/><path class="w" d="M54 60L43.5 44H47.5ZM54 95.3L43 104L46 106ZM185 97.5L201.5 100V104ZM233.7 102L243 76H247Z"/><path class="h" d="M83 78L97 78M44.8 78L28 78M72.9 95.3L82 105M209 121L198 131M228.5 121L238 131"/><text x="24" y="43">O</text><text x="58" y="26.4">OH</text><text x="72.9" y="60">O</text><text x="18.3" y="78">HO</text><text x="39" y="110.8">HO</text><text x="87" y="110.8">OH</text><text x="102.8" y="78">O</text><text x="121.7" y="78">P</text><text x="140.7" y="78">O</text><text x="159.6" y="78">P</text><text x="179" y="78">O</text><text x="127" y="56.8">OH</text><text x="164.8" y="56.8">OH</text><text x="121.7" y="97">O</text><text x="159.6" y="97">O</text><text x="217.5" y="91.3">O</text><text x="191.7" y="136">HO</text><text x="245" y="136">OH</text><text x="245" y="70">N</text><text x="245.7" y="14.4">O</text><text x="223" y="40.8">HN</text><text x="212" y="70">O</text><text class="l" x="7.5" y="160">C00167</text></g>
<g id="C00190" class="n" transform="translate(314.7 2367.6)"><rect width="265.8" height="170"/><path class="b" d="M52 81L41.9 85.5V105.6L59.7 116.5L78 105.6V85.5L65 81M97.5 78H105M116.5 78H124.5M136 78H143M154 78H163M111 72.5L113 63M149 72.5L151 63M109.5 83V91M112 83V91M147.4 83V91M150 83V91M168 84L173.4 97.6M191 101.6L201 94M212 94L223.4 101.6L216 121H198L191 101.6M223.4 101.6L233 78M242 70L253.7 62.6V41.3M250.5 59V44M253.7 41.3L236.5 31.6L220 38M235 31V20M238 31V20M213 47L219.5 71.8L231 71.8M209 68.5L219.5 70.5M209 71.5L219.5 73.5"/><path class="w" d="M59.7 116.5L58 129H62ZM173.4 96L191 99.5V103.5Z"/><path class="h" d="M78 85.5L86 80M41.9 105.6L29 113M78 105.6L88 113M198 121L188 132M216 121L226 131"/><text x="58.5" y="78">O</text><text x="19.5" y="115.4">HO</text><text x="97" y="115.4">OH</text><text x="63" y="136">OH</text><text x="91.8" y="78">O</text><text x="110.8" y="78">P</text><text x="130.3" y="78">O</text><text x="148.7" y="78">P</text><text x="168.8" y="78">O</text><text x="116" y="57.4">OH</text><text x="154" y="57.4">OH</text><text x="110.8" y="96.4">O</text><text x="148.7" y="96.4">O</text><text x="206" y="90.7">O</text><text x="180.3" y="136.6">HO</text><text x="233" y="136">OH</text><text x="236.5" y="71.8">N</text><text x="236.5" y="14.4">O</text><text x="213" y="41.3">HN</text><text x="203" y="70">O</text><text class="l" x="8.6" y="160">C00190</text></g>

<g id="C05345" class="n" transform="translate(962.2 1771.6)"><rect width="178.4" height="93"/><use href="#s-f6p"/><text x="16.5" y="34">HO</text><text x="39.5" y="34">P</text><text x="39.5" y="15.5">O</text><text x="43.6" y="54">OH</text><text x="59.7" y="34">O</text><text x="106.8" y="12.6">O</text><text x="82" y="59.7">HO</text><text x="133" y="59.7">OH</text><text x="145.4" y="32">OH</text><text x="160" y="15.5">OH</text><text class="l" x="8.8" y="81.5">C05345</text></g>
<g id="C00085" class="n" transform="translate(1211.5 2587.8)"><rect width="179" height="92.5"/><use href="#s-f6p"/><text x="16.5" y="34">HO</text><text x="39.5" y="34">P</text><text x="39.5" y="15.5">O</text><text x="43.6" y="53.4">OH</text><text x="59.7" y="34">O</text><text x="106.8" y="13">O</text><text x="81" y="59">HO</text><text x="132.4" y="59">OH</text><text x="145" y="31.6">OH</text><text x="160" y="15.5">OH</text><text class="l" x="8.4" y="82">C00085</text></g>
<g id="C00013" class="n" transform="translate(1164.3 1772.8)"><rect width="123" height="91"/><path class="b" d="M30 37.3H38M47 37.3H55M65 37.3H74.5M84.5 37.3H91M41.3 20V32M44 20V32M78.3 20V32M81 20V32M44 42L46 50M80.5 42L82.5 50"/><text x="20" y="37.3">HO</text><text x="42.6" y="37.3">P</text><text x="59.9" y="37.3">O</text><text x="79.6" y="37.3">P</text><text x="102" y="37.3">OH</text><text x="42.6" y="14.4">O</text><text x="79.6" y="14.4">O</text><text x="48" y="56">OH</text><text x="84" y="56">OH</text><text class="l" x="9.6" y="80">C00013</text></g>
<g id="C05378" class="n" transform="translate(962.4 2081.5)"><rect width="216.2" height="107"/><path class="b" d="M26 48H34M45 48H53M37.7 34V43.5M40.3 34V43.5M39.5 53L41.5 61M65 43L71.6 32M90.7 38L100 31M111 31L121.3 39L115.6 56H95.7L90.7 38M131 24L138 24L147 30M158 32.7H167M178 32.7H188M171.3 18V28M174 18V28M173.5 38L175 47"/><path class="w" d="M71.6 31L90.7 36V40ZM121.3 38L135 43V47ZM115.6 56L124 68L127 65Z"/><path class="h" d="M121.3 39L131 24M95.7 56L86 67"/><text x="16.5" y="48">HO</text><text x="39" y="48">P</text><text x="39" y="29">O</text><text x="43.6" y="67.7">OH</text><text x="59.3" y="48">O</text><text x="105.3" y="27.5">O</text><text x="80.4" y="73.5">HO</text><text x="131.7" y="73.5">OH</text><text x="143.5" y="46">OH</text><text x="152.7" y="32.7">O</text><text x="172.6" y="32.7">P</text><text x="172.6" y="13">O</text><text x="196.7" y="32.7">OH</text><text x="176.8" y="52.8">OH</text><text class="l" x="8.4" y="96.4">C05378</text></g>
<g id="C00009" class="n" transform="translate(1202.3 2091.3)"><rect width="85.4" height="88.4"/><path class="b" d="M40.2 21V28M43 21V28M30 40L37 37M46 37L53 40M42 40L44 47"/><text x="41.7" y="15">O</text><text x="41.7" y="34">P</text><text x="20" y="42">HO</text><text x="64.5" y="42">OH</text><text x="51" y="53">OH</text><text class="l" x="8.4" y="78">C00009</text></g>
<g id="C00111" class="n" transform="translate(1042.4 2387.5)"><rect width="82.2" height="129.7"/><path class="b" d="M25 14.4L9.6 25.8V66L20 73.5M9.6 42.5H21M9.6 45.5H21M33 73.5H42M52 72H62M52 75H62M48 68L50 58M47 79L44 89"/><text x="31.8" y="14.4">OH</text><text x="27.9" y="44">O</text><text x="26.8" y="73.5">O</text><text x="47" y="73.5">P</text><text x="67" y="73.5">O</text><text x="52" y="53">OH</text><text x="42" y="94.7">HO</text><text class="l" x="8.8" y="118.8">C00111</text></g>
<g id="C00118" class="n" transform="translate(1106.7 2728.5)"><rect width="111.7" height="133"/><path class="b" d="M42 14.5L31.4 22.5M43 17.5L32 25M31.4 23.5V69.5L42 77.5M54 78.6H63M73 78.6H82M66.4 65V74M69 65V74M68.5 83.5L70.5 92"/><path class="w" d="M31.4 46.5L18 44.5V48.5ZM31.4 46.5L45 44.5V48.5Z"/><text x="48.6" y="16">O</text><text x="12.2" y="46.5">H</text><text x="55" y="46.5">OH</text><text x="48.6" y="78.6">O</text><text x="67.7" y="78.6">P</text><text x="67.7" y="60">O</text><text x="92" y="78.6">OH</text><text x="72.7" y="98.7">OH</text><text class="l" x="8.4" y="122.8">C00118</text></g>
<g id="C00231" class="n" transform="translate(1130.3 3032.3)"><rect width="192.4" height="99"/><path class="b" d="M27 41L40.7 36.3L58.7 46.7L75.3 36.3L92 46.7L110 36.3L121 42M57.4 46.7V57M60 46.7V57M132.5 45H141M151 45H161M143 39L142 30M144.7 50V58.5M147.3 50V58.5"/><path class="w" d="M75.3 36.3L73 21H78ZM92 46.7L90 57H94Z"/><text x="80" y="14.7">OH</text><text x="18.7" y="44.7">HO</text><text x="58.7" y="64.3">O</text><text x="97" y="64.3">OH</text><text x="126.7" y="45">O</text><text x="146" y="45">P</text><text x="140.3" y="23.7">HO</text><text x="171" y="45">OH</text><text x="146" y="64.3">O</text><text class="l" x="8.3" y="88.3">C00231</text></g>
<g id="C00279" class="n" transform="translate(1346.3 3005.3)"><rect width="104.4" height="152"/><path class="b" d="M17 18L30 26.3L42 18M31 28.5L43 21.5M30 26.3V90.3L42 96M30 45.3H45M30 65.3H45M53 98.3H62M72 96.8H81M72 99.8H81M68 92L70 85M68 104L70 111"/><text x="12.7" y="15">H</text><text x="47" y="15">O</text><text x="55" y="43.7">OH</text><text x="55" y="63.7">OH</text><text x="47" y="98.3">O</text><text x="67" y="98.3">P</text><text x="71" y="78.7">OH</text><text x="87" y="98.3">O</text><text x="72" y="117.3">OH</text><text class="l" x="8.3" y="141.3">C00279</text></g>
<g id="C00199" class="n" transform="translate(1198.3 3301.6)"><rect width="186.4" height="95.6"/><path class="b" d="M24 40L38.3 33.3L55.7 44.8L72.7 33.3L89.3 44.8L105.7 33.3L117 40M54.4 44.8V56M57 44.8V56M128 42.9H138M148 42.9H157M143.5 38L145.5 29M141.4 48V56.5M144 48V56.5"/><path class="w" d="M89.3 44.8L87 56H92Z"/><path class="h" d="M72.7 33.3L75 19"/><text x="75.7" y="13">OH</text><text x="16.3" y="42.9">HO</text><text x="54.7" y="62.8">O</text><text x="92.7" y="62.8">OH</text><text x="122.3" y="42.9">O</text><text x="142.7" y="42.9">P</text><text x="147" y="23">OH</text><text x="166.7" y="42.9">OH</text><text x="142.7" y="62.8">O</text><text class="l" x="8.3" y="85">C00199</text></g>
<g id="C00117" class="n" transform="translate(1260.6 3541.3)"><rect width="171" height="96"/><path class="b" d="M28 36H39M49 36H58M42.6 20V31M45.2 20V31M44.5 41L46.5 50M69 31L78.6 21.3M94.4 26.3L104 19.5M115 19.5L126 27L119.4 46H100L94.4 26.3M126 27L131 21L134 26L138 20L143 21"/><path class="w" d="M78.6 20L94.4 24.5V28.5Z"/><path class="h" d="M100 46L88 56M119.4 46L131 56"/><text x="18.4" y="36">HO</text><text x="43.9" y="36">P</text><text x="43.9" y="14.7">O</text><text x="48.5" y="56.7">OH</text><text x="63.8" y="36">O</text><text x="109.7" y="15.3">O</text><text x="82.1" y="62">HO</text><text x="137" y="61">OH</text><text x="151" y="19.7">OH</text><text class="l" x="8" y="85.3">C00117</text></g>
<g id="C00020" class="n" transform="translate(1338.3 3781.3)"><rect width="245.4" height="112"/><path class="b" d="M30 48H38M49 48H57M42 33V43M44.8 33V43M43.4 53V62M69 44L76.5 35.3M98 39.7L108 32M118 32L127.6 41.3L122.4 60.3H103L98 39.7M148 30L155 16.3H168.5M157 20H168M177 22L179.6 33.7L161.7 47L151 40M177 37L164 45M161.7 47L163 61M169 70L182 74.7L195 66M171 69L181 72M199.5 56L199 43.7M196.5 56L196 46M199 43.7L179.6 33.7M199 43.7L211 33"/><path class="w" d="M76.5 34L98 38V42ZM127.6 41.3L141 35V39Z"/><path class="h" d="M103 60.3L96 71M122.4 60.3L131 70"/><text x="19" y="48">HO</text><text x="43.4" y="48">P</text><text x="62.8" y="48">O</text><text x="43.4" y="28">O</text><text x="37.8" y="68">HO</text><text x="113" y="29.3">O</text><text x="91.3" y="78">HO</text><text x="136.7" y="76">OH</text><text x="146.5" y="36">N</text><text x="173.5" y="16.3">N</text><text x="163.8" y="67.7">N</text><text x="199.5" y="62">N</text><text x="222" y="29.7">NH<tspan class="s" dy="3">2</tspan></text><text class="l" x="8.7" y="101">C00020</text></g>
<g id="C00015" class="n" transform="translate(524.5 4037)"><rect width="254" height="110"/><path class="b" d="M26 49.7H34M44 49.7H54M65 49.7H74M84 49.7H93M37.7 34V44.5M40.3 34V44.5M77.7 34V44.5M80.3 34V44.5M39 55V64M79 55V64M104 44L114 35.7M132.4 42L143 34M152 34L163 42L157.3 60.3H137.4L132.4 42M183 30L185 16.3L205 9.7L218.5 19.7M188 19L204 13.5M218.5 19.7L219 37M217 18L232 15M219 21L233 18M212 44L196.7 47L187 38M196.7 47L194 60M199 48L196.5 60"/><path class="w" d="M114 34.5L132.4 40V44ZM163 42L177 36V40Z"/><path class="h" d="M137.4 60.3L128 71M157.3 60.3L166 71"/><text x="15.7" y="49.7">HO</text><text x="39" y="49.7">P</text><text x="59.3" y="49.7">O</text><text x="79" y="49.7">P</text><text x="98.7" y="49.7">O</text><text x="39" y="29">O</text><text x="79" y="29">O</text><text x="43.6" y="69.7">OH</text><text x="83.4" y="69.7">OH</text><text x="147.3" y="30.7">O</text><text x="121.7" y="76.3">HO</text><text x="173.3" y="76.3">OH</text><text x="182" y="35.3">N</text><text x="238.4" y="16.3">O</text><text x="220.4" y="43">NH</text><text x="192.9" y="67">O</text><text class="l" x="8" y="98.7">C00015</text></g>
</g>
</svg>
